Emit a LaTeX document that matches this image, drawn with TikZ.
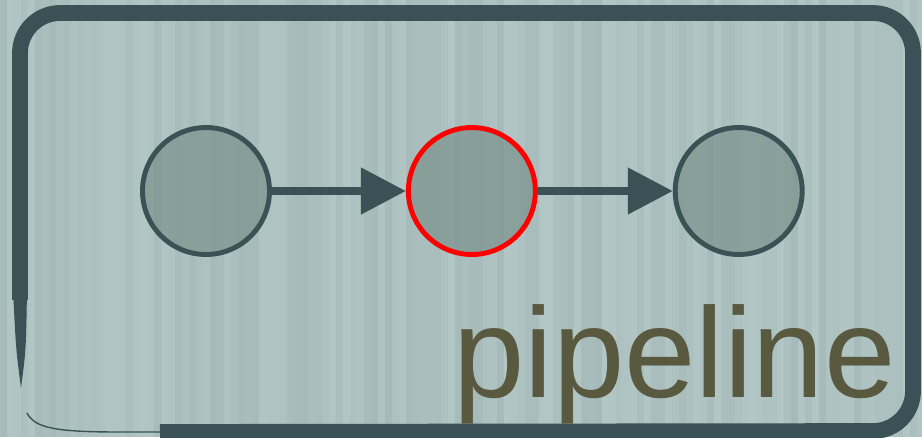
\documentclass[tikz,border=0pt]{standalone}
\usepackage{fontspec}
\setmainfont{Liberation Sans}
\usetikzlibrary{arrows.meta}
\usetikzlibrary{positioning}

\definecolor{slate}{HTML}{3A5256}
\definecolor{wall}{HTML}{B3C7C6}
\definecolor{wallshade}{HTML}{98AEAC}
\definecolor{stagefill}{HTML}{7A918B}
\definecolor{olive}{HTML}{58593F}

\begin{document}
\begin{tikzpicture}[x=0.02cm,y=-0.02cm,
    stage/.style={circle, draw=slate, line width=2.8pt, fill=stagefill,
      fill opacity=0.7, draw opacity=1, minimum size=2.54cm, inner sep=0pt},
    flow/.style={draw=slate, line width=4.5pt, -{Triangle[length=0.9cm,width=0.9cm]}},
    frame/.style={draw=slate, line width=9pt, rounded corners=0.8cm}
    ]
\useasboundingbox (0,0) rectangle (922,437);

% striped wall
\pgfmathsetseed{7}
\fill[wall] (0,0) rectangle (922,437);
\foreach \i in {0,...,131} {
  \pgfmathsetmacro\o{0.5*rnd}
  \fill[wallshade, opacity=\o] (\i*7,0) rectangle (\i*7+7,437);
}

% frame
\draw[frame] (20,300) -- (20,13) -- (913,13) -- (913,431) -- (160,432);
\fill[slate] (13,290) -- (27,290) .. controls (26,350) .. (21,388) .. controls (16,350) .. (13,290);
\draw[slate, line width=0.8pt] (27,413) .. controls (35,428) and (55,432) .. (120,432) -- (200,432);
%\draw[slate, line width=0.8pt] (30,411) .. controls (40,430) .. (120,434);

% stages
\node[stage] (s1) at (206,191) {};
\node[stage, draw=red, right=2.68cm of s1] (s2) {};
\node[stage, right=2.7cm of s2] (s3) {};

\draw[flow] (s1) -- (s2);
\draw[flow] (s2) -- (s3);

\node[anchor=base west, inner sep=0pt, text=olive, font=\fontsize{73}{80}\selectfont] (label) at (453,397) {pipeline};
\end{tikzpicture}
\end{document}
